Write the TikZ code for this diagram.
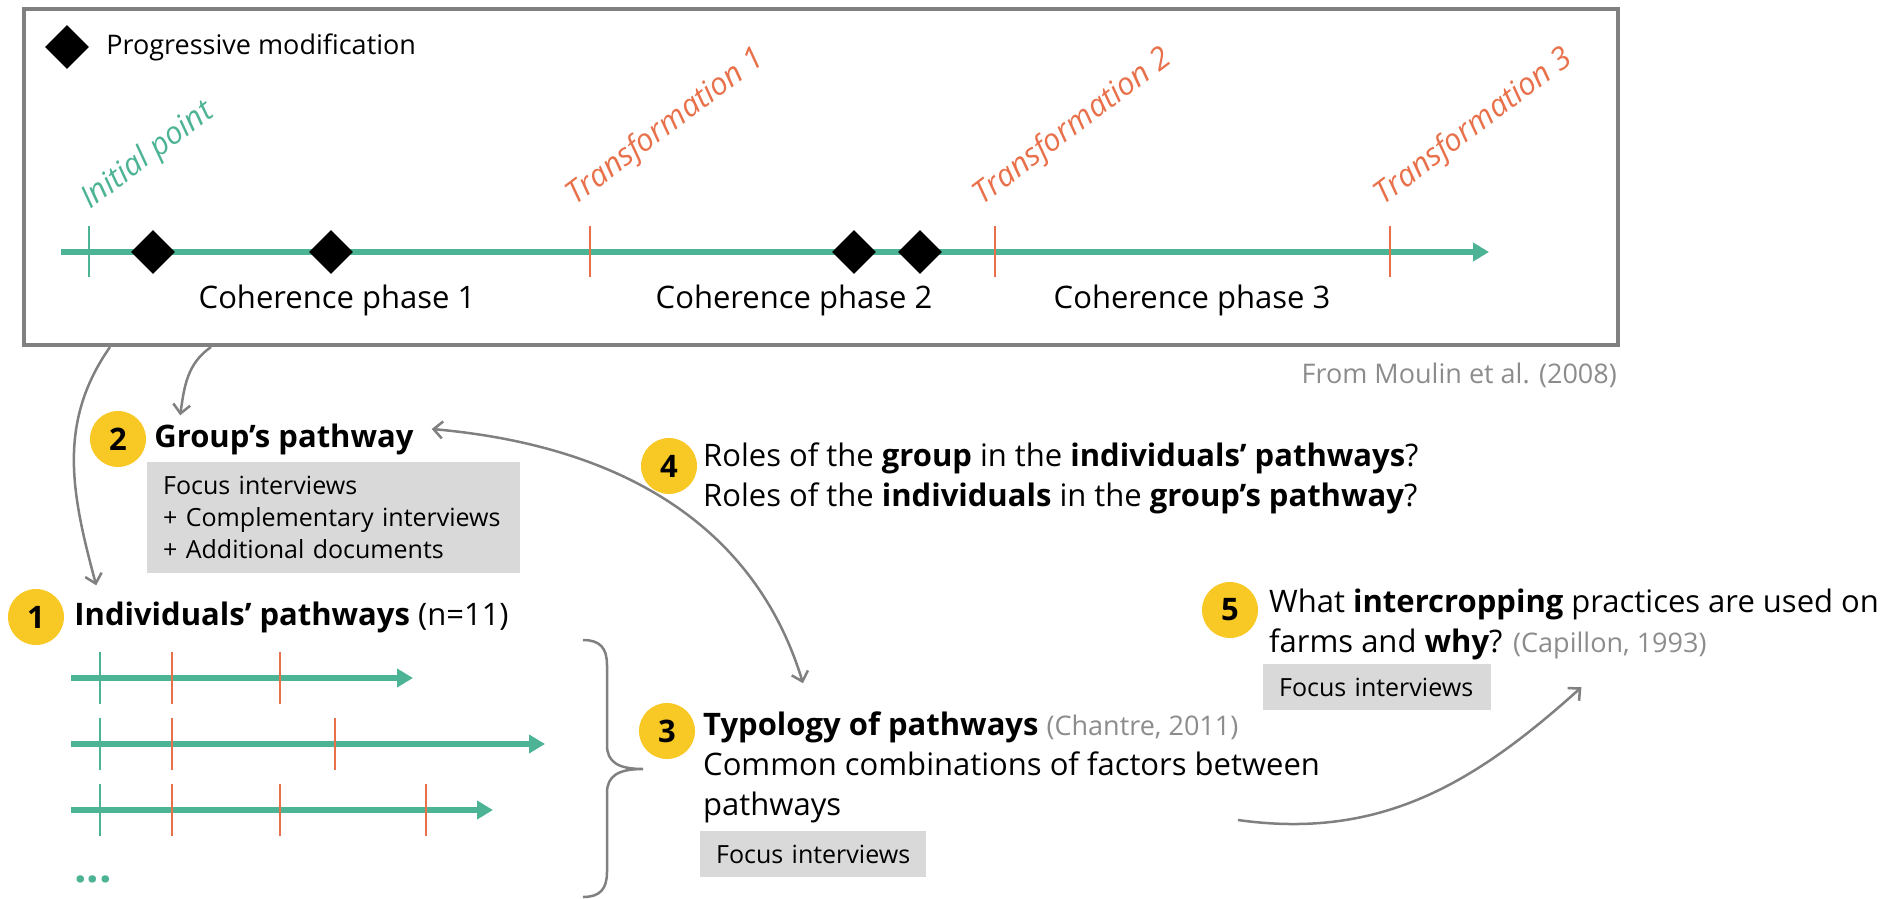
\documentclass[tikz,border=0pt]{standalone}
\usepackage{fontspec}
\setmainfont{Open Sans}
\usetikzlibrary{arrows.meta,shapes.geometric,positioning}

\definecolor{pathgreen}{HTML}{4DB395}
\definecolor{transred}{HTML}{E8704A}
\definecolor{numyellow}{HTML}{F8C825}
\definecolor{boxgray}{HTML}{D9D9D9}
\definecolor{linegray}{HTML}{808080}
\definecolor{citegray}{HTML}{8C8C8C}

\begin{document}
\begin{tikzpicture}[x=1pt,y=1pt,>={Straight Barb[length=9pt,width=17pt]},
                    font=\fontsize{31}{40}\selectfont]
  \tikzstyle{lbl}=[inner sep=0pt]
  \tikzstyle{num}=[circle,fill=numyellow,minimum size=56pt,inner sep=0pt,
                   font=\fontsize{31}{31}\selectfont\bfseries]
  \tikzstyle{method}=[fill=boxgray,anchor=north west,align=left,inner xsep=16pt,
                      font=\fontsize{25}{32}\selectfont]
  \tikzstyle{modif}=[diamond,fill=black,minimum width=44pt,minimum height=44pt,inner sep=0pt]
  \tikzstyle{axis}=[line width=6pt,pathgreen,-{Triangle[length=16pt,width=18pt]}]
  \tikzstyle{inittick}=[line width=2.2pt,pathgreen]
  \tikzstyle{transtick}=[line width=2.2pt,transred]
  \tikzstyle{link}=[->,line width=2.5pt,linegray]
  \tikzstyle{cite}=[text=citegray,font=\fontsize{27}{27}\selectfont]

  \useasboundingbox (0,0) rectangle (1899,-899);

  % framed timeline (Moulin et al.)
  \node[draw=linegray,line width=4pt,minimum width=1594pt,minimum height=336pt,
        inner sep=0pt] (frame) at (821,-177) {};
  \node[modif] (key) at (67,-47) {};
  \node[lbl,right=17pt of key,font=\fontsize{27}{27}\selectfont] (keytext) {Progressive modification};

  \draw[axis] (61,-252) -- (1489,-252);
  \draw[inittick] (89,-226) -- (89,-277);
  \foreach \x in {590,995,1390}
    \draw[transtick] (\x,-226) -- (\x,-277);
  \foreach \x [count=\i] in {153,331,854,920}
    \node[modif] (m\i) at (\x,-252) {};

  \node[lbl,rotate=37,anchor=base west,text=pathgreen,font=\fontsize{31}{31}\selectfont\itshape]
    (init) at (90,-210) {Initial point};
  \foreach \x/\i in {575/1,982/2,1383/3}
    \node[lbl,rotate=37,anchor=base west,text=transred,font=\fontsize{31}{31}\selectfont\itshape]
      (tr\i) at (\x,-206) {Transformation \i};

  \node[lbl] (ph1) at (337,-300) {Coherence phase 1};
  \node[lbl] (ph2) at (794,-300) {Coherence phase 2};
  \node[lbl] (ph3) at (1192,-300) {Coherence phase 3};
  \node[lbl,cite,anchor=east] (moulin) at (1617,-375) {From Moulin et al. (2008)};

  % steps
  \node[num] (n2) at (118,-439) {2};
  \node[lbl,right=8pt of n2] (group) {\textbf{Group’s pathway}};
  \node[method,minimum height=111pt,text width=341pt] (src2) at (147,-462)
    {Focus interviews\\+ Complementary interviews\\+ Additional documents};

  \node[num] (n1) at (36,-617) {1};
  \node[lbl,right=10pt of n1] (indiv) {\textbf{Individuals’ pathways} (n=11)};

  \node[num] (n4) at (669,-466) {4};
  \node[lbl,anchor=west,align=left] (roles) at (703,-478)
    {Roles of the \textbf{group} in the \textbf{individuals’ pathways}?\\
     Roles of the \textbf{individuals} in the \textbf{group’s pathway}?};

  \node[num] (n3) at (667,-731) {3};
  \node[lbl,anchor=west,align=left] (typo) at (703,-767)
    {\textbf{Typology of pathways} {\color{citegray}\fontsize{27}{27}\selectfont(Chantre, 2011)}\\
     Common combinations of factors between\\pathways};
  \node[method,minimum height=46pt,text width=194pt] (src3) at (700,-831) {Focus interviews};

  \node[num] (n5) at (1230,-610) {5};
  \node[lbl,anchor=west,align=left] (practice) at (1269,-624)
    {What \textbf{intercropping} practices are used on\\
     farms and \textbf{why}? {\color{citegray}\fontsize{27}{27}\selectfont(Capillon, 1993)}};
  \node[method,minimum height=46pt,text width=196pt] (src5) at (1263,-664) {Focus interviews};

  % individual pathways
  \draw[axis] (71,-678) -- (413,-678);
  \draw[axis] (71,-744) -- (545,-744);
  \draw[axis] (71,-810) -- (493,-810);
  \foreach \y in {678,744,810}
    \draw[inittick] (100,-\y+26) -- (100,-\y-26);
  \foreach \x/\y in {172/678,280/678,172/744,335/744,172/810,280/810,426/810}
    \draw[transtick] (\x,-\y+26) -- (\x,-\y-26);
  \node[lbl,anchor=base,text=pathgreen,font=\fontsize{44}{44}\selectfont\bfseries] (more) at (93,-882) {...};

  \draw[linegray,line width=2.5pt] (583,-640) .. controls (600,-640) and (607,-648) .. (607,-665)
    -- (607,-745) .. controls (607,-762) and (618,-769) .. (643,-769)
    .. controls (618,-769) and (607,-776) .. (607,-793)
    -- (607,-872) .. controls (607,-889) and (600,-897) .. (583,-897);

  % links
  \coordinate (bend) at (1238,-820);
  \draw[link] ([xshift=88pt]frame.south west) to[out=235,in=105] ([xshift=22pt,yshift=16pt]indiv.north west);
  \draw[link] ([xshift=189pt]frame.south west) to[out=215,in=82] ([xshift=26pt,yshift=8pt]group.north west);
  \draw[link,<->] ([xshift=18pt,yshift=10pt]group.east) to[out=-5,in=107] ([xshift=100pt,yshift=28pt]typo.north west);
  \draw[link] (bend) to[out=-8,in=222] ([xshift=90pt]src5.east);
\end{tikzpicture}
\end{document}
